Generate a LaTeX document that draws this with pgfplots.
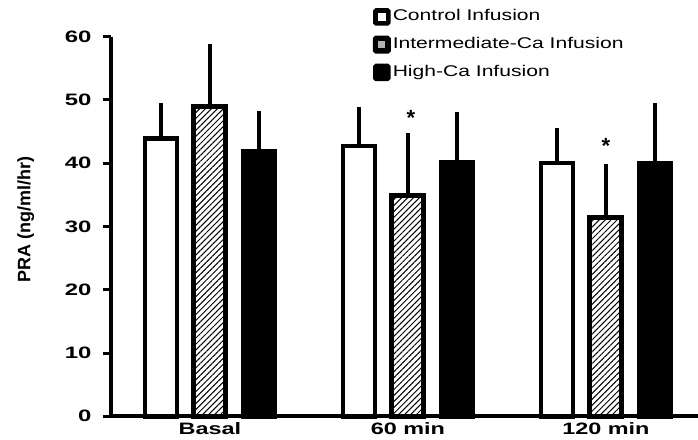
\documentclass[border=0pt]{standalone}
\usepackage{fontspec}
\setmainfont{Liberation Sans}
\usepackage{graphicx}
\usepackage{pgfplots}
\usepackage{pgfplotstable}
\pgfplotsset{compat=1.18}
\usetikzlibrary{patterns.meta}

% PRA means and upper SD per period (0 = Basal, 1 = 60 min, 2 = 120 min)
\pgfplotstableread{
x y e
0 43.9 5.6
1 42.7 6.2
2 40.0 5.6
}\controltab
\pgfplotstableread{
x y e
0 49.0 9.8
1 34.9 9.9
2 31.5 8.4
}\intertab
\pgfplotstableread{
x y e
0 41.9 6.4
1 40.1 8.0
2 40.0 9.5
}\hightab

\begin{document}
\begin{tikzpicture}
\useasboundingbox (-111pt,-22.7pt) rectangle (587pt,416.3pt);
\begin{axis}[
  at={(0,0)}, anchor=south west,
  scale only axis, width=587pt, height=379.6pt,
  xmin=-0.5, xmax=2.465, ymin=0, ymax=60,
  axis x line*=bottom, axis y line*=left,
  axis line style={line width=4pt, black},
  ybar=17pt, bar width=32pt,
  ytick={0,10,...,60},
  xtick={0,1,2},
  xticklabels={{\scalebox{1.42}[1]{Basal}},{\scalebox{1.42}[1]{60 min}},{\scalebox{1.42}[1]{120 min}}},
  yticklabel={\scalebox{1.45}[1]{\pgfmathprintnumber{\tick}}},
  /pgf/number format/assume math mode=true,
  ticklabel style={font=\bfseries\fontsize{16.5}{18}\selectfont},
  x tick label style={font=\bfseries\fontsize{16.5}{18}\selectfont, yshift=5.5pt},
  y tick label style={xshift=-8pt},
  tick align=outside,
  major tick length=8pt,
  y tick style={line width=3pt, black},
  x tick style={draw=none},
  ylabel={PRA (ng/ml/hr)},
  ylabel style={font=\bfseries\fontsize{18}{20}\selectfont, at={(axis description cs:-0.145,0.518)}, anchor=center},
  clip=false,
  legend style={at={(rel axis cs:0.4456,1.0756)}, anchor=north west, draw=none, fill=none,
    inner sep=0pt, row sep=10pt, column sep=2pt,
    font=\fontsize{15.5}{18}\selectfont,
    nodes={inner sep=0pt, text height=11pt, text depth=3pt}},
  legend cell align=left,
  error bars/y dir=plus, error bars/y explicit,
  error bars/error mark=none,
  error bars/error bar style={line width=4pt, black},
]
\addplot[draw=black, line width=4.5pt, fill=white,
  legend image code/.code={\fill[black, rounded corners=1pt] (0pt,-6.5pt) rectangle (13pt,6.5pt);
    \fill[white] (4.5pt,-2pt) rectangle (8.5pt,2pt);}]
  table[x=x, y=y, y error=e] {\controltab};
\addlegendentry{\scalebox{1.36}[1]{Control Infusion}}
\addplot[draw=black, line width=5pt,
  pattern={Lines[angle=45, distance=4.2pt, line width=1pt]}, pattern color=black,
  legend image code/.code={\fill[black, rounded corners=1pt] (0pt,-6.5pt) rectangle (13pt,6.5pt);
    \fill[gray!60] (5.5pt,-1pt) rectangle (7.5pt,1pt);}]
  table[x=x, y=y, y error=e] {\intertab};
\addlegendentry{\scalebox{1.36}[1]{Intermediate-Ca Infusion}}
\addplot[draw=black, line width=4.5pt, fill=black,
  legend image code/.code={\fill[black, rounded corners=1pt] (0pt,-6.5pt) rectangle (13pt,6.5pt);}]
  table[x=x, y=y, y error=e] {\hightab};
\addlegendentry{\scalebox{1.36}[1]{High-Ca Infusion}}
% significance markers above the intermediate-Ca bars
\node[font=\bfseries\fontsize{22}{22}\selectfont] at (axis cs:1.015,47.2) {*};
\node[font=\bfseries\fontsize{22}{22}\selectfont] at (axis cs:2.0,42.8) {*};
\end{axis}
\end{tikzpicture}
\end{document}
